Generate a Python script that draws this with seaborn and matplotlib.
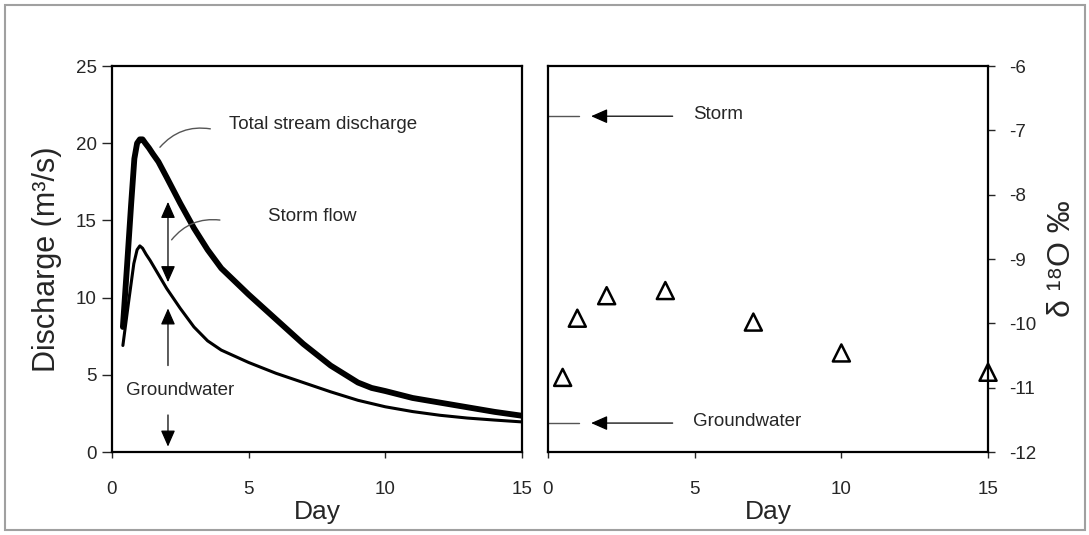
import matplotlib
matplotlib.use('Agg')
import matplotlib.pyplot as plt
import seaborn as sns
import pandas as pd
from matplotlib.patches import Rectangle

# discharge curves (left panel)
total_day = [0.4, 0.55, 0.7, 0.82, 0.92, 1.02, 1.12, 1.22, 1.35, 1.5, 1.7, 2.0, 2.5, 3.0, 3.5,
             4.0, 5.0, 6.0, 7.0, 8.0, 9.0, 9.5, 10.0, 11.0, 12.0, 13.0, 14.0, 15.0]
total_q = [8.1, 12.0, 16.0, 19.0, 20.0, 20.25, 20.25, 20.0, 19.7, 19.3, 18.8, 17.8, 16.1, 14.5, 13.1,
           11.9, 10.2, 8.6, 7.0, 5.6, 4.5, 4.15, 3.95, 3.5, 3.2, 2.9, 2.6, 2.35]
gw_day = [0.4, 0.6, 0.8, 0.92, 1.02, 1.12, 1.25, 1.4, 1.6, 2.0, 2.5, 3.0, 3.5, 4.0, 5.0, 6.0,
          7.0, 8.0, 9.0, 10.0, 11.0, 12.0, 13.0, 14.0, 15.0]
gw_q = [6.9, 9.6, 12.2, 13.1, 13.35, 13.2, 12.8, 12.4, 11.8, 10.6, 9.3, 8.1, 7.2, 6.6, 5.8, 5.1,
        4.5, 3.9, 3.35, 2.93, 2.62, 2.38, 2.2, 2.07, 1.95]

# isotope samples (right panel)
iso_day = [0.5, 1, 2, 4, 7, 10, 15]
iso_d18o = [-10.84, -9.92, -9.57, -9.49, -9.98, -10.46, -10.76]
storm_d18o = -6.78
gw_d18o = -11.55

sns.set_style('white')
plt.rcParams['font.family'] = ['Liberation Sans', 'DejaVu Sans']
plt.rcParams['axes.unicode_minus'] = False
plt.rcParams['lines.solid_joinstyle'] = 'round'
plt.rcParams['lines.solid_capstyle'] = 'round'

fig = plt.figure(figsize=(10.89, 5.35), dpi=100)
fig.patches.append(Rectangle((0.0046, 0.0093), 0.9917, 0.981, transform=fig.transFigure,
                             fill=False, edgecolor='#a0a0a0', lw=1.5))

ax1 = fig.add_axes([0.1028, 0.1551, 0.3765, 0.7215])
ax2 = fig.add_axes([0.5032, 0.1551, 0.4041, 0.7215])

df_total = pd.DataFrame({'Day': total_day, 'Q': total_q})
df_gw = pd.DataFrame({'Day': gw_day, 'Q': gw_q})
sns.lineplot(data=df_total, x='Day', y='Q', ax=ax1, color='black', lw=4.2, sort=False)
sns.lineplot(data=df_gw, x='Day', y='Q', ax=ax1, color='black', lw=2.2, sort=False)

ax1.set_xlim(0, 15)
ax1.set_ylim(0, 25)
ax1.set_xticks([0, 5, 10, 15])
ax1.set_yticks([0, 5, 10, 15, 20, 25])
ax1.set_xlabel('Day', fontsize=19, labelpad=1)
ax1.set_ylabel('Discharge (m³/s)', fontsize=22, labelpad=10)
ax1.tick_params(axis='y', direction='out', length=7, width=1, pad=4, labelsize=13.5, left=True)
ax1.tick_params(axis='x', direction='out', length=4, width=1, pad=17, labelsize=13.5, bottom=True)

# annotations on the left panel
gray = '#555555'
ax1.text(4.28, 21.2, 'Total stream discharge', fontsize=13.5, ha='left', va='center')
ax1.annotate('', xy=(1.69, 19.6), xytext=(3.7, 20.9),
             arrowprops=dict(arrowstyle='-', color=gray, lw=1, connectionstyle='arc3,rad=0.3'))
ax1.text(5.71, 15.24, 'Storm flow', fontsize=13.5, ha='left', va='center')
ax1.annotate('', xy=(2.12, 13.6), xytext=(4.05, 15.0),
             arrowprops=dict(arrowstyle='-', color=gray, lw=1, connectionstyle='arc3,rad=0.3'))
ax1.annotate('', xy=(2.05, 16.2), xytext=(2.05, 11.0),
             arrowprops=dict(arrowstyle='<|-|>,head_length=0.5,head_width=0.22', color='black',
                             lw=0.9, mutation_scale=20, shrinkA=0, shrinkB=0))
ax1.annotate('', xy=(2.05, 9.3), xytext=(2.05, 5.6),
             arrowprops=dict(arrowstyle='-|>,head_length=0.5,head_width=0.22', color='black',
                             lw=0.9, mutation_scale=20, shrinkA=0, shrinkB=0))
ax1.annotate('', xy=(2.05, 0.35), xytext=(2.05, 2.4),
             arrowprops=dict(arrowstyle='-|>,head_length=0.5,head_width=0.22', color='black',
                             lw=0.9, mutation_scale=20, shrinkA=0, shrinkB=0))
ax1.text(0.53, 4.0, 'Groundwater', fontsize=13.5, ha='left', va='center')

# right panel
df_iso = pd.DataFrame({'Day': iso_day, 'd18O': iso_d18o})
sns.scatterplot(data=df_iso, x='Day', y='d18O', ax=ax2, marker='^', s=150,
                facecolor='none', edgecolor='black', linewidth=1.8, clip_on=False, zorder=5)

ax2.set_xlim(0, 15)
ax2.set_ylim(-12, -6)
ax2.set_xticks([0, 5, 10, 15])
ax2.set_yticks([-12, -11, -10, -9, -8, -7, -6])
ax2.yaxis.tick_right()
ax2.yaxis.set_label_position('right')
ax2.set_xlabel('Day', fontsize=19, labelpad=1)
ax2.set_ylabel('δ ¹⁸O ‰', fontsize=23, labelpad=8)
ax2.tick_params(axis='y', direction='out', length=5, width=1, pad=10, labelsize=13.5,
                right=True, left=False)
ax2.tick_params(axis='x', direction='out', length=4, width=1, pad=17, labelsize=13.5, bottom=True)

for y, label in [(storm_d18o, 'Storm'), (gw_d18o, 'Groundwater')]:
    ax2.plot([0, 1.06], [y, y], color=gray, lw=1)
    ax2.annotate('', xy=(1.47, y), xytext=(4.25, y),
                 arrowprops=dict(arrowstyle='-|>,head_length=0.5,head_width=0.22', color='black',
                                 lw=0.9, mutation_scale=20, shrinkA=0, shrinkB=0))
    ax2.text(4.95, y + 0.03, label, fontsize=13.5, ha='left', va='center')

for ax in (ax1, ax2):
    for sp in ax.spines.values():
        sp.set_linewidth(1.6)
        sp.set_color('black')

fig.savefig('out.png', dpi=100)
